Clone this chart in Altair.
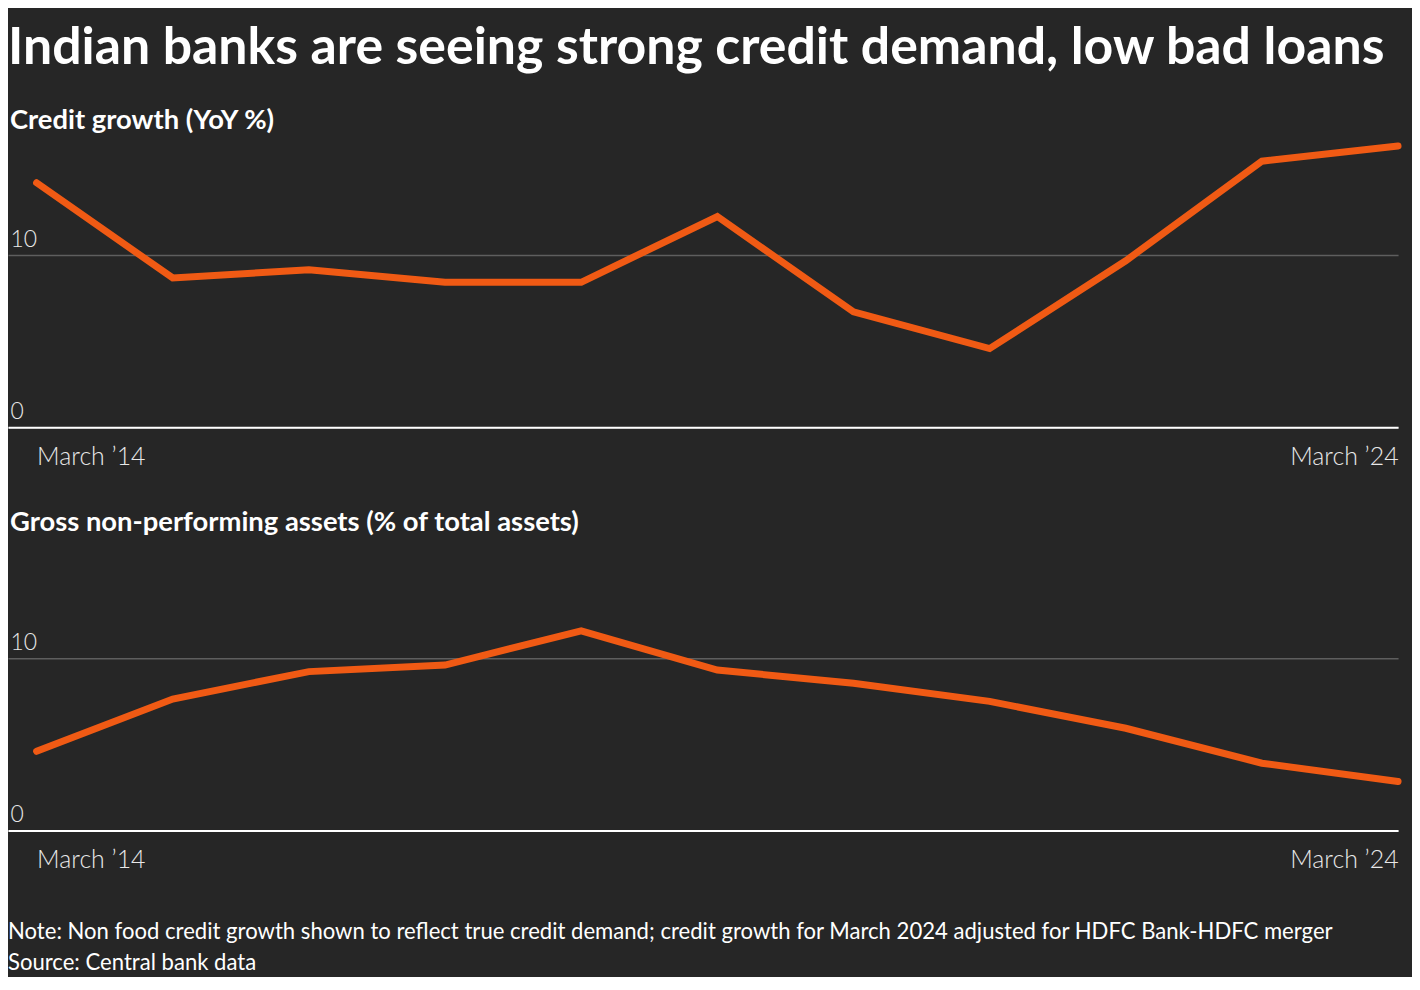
import altair as alt
import pandas as pd

# ---- data ----
years = [2014, 2015, 2016, 2017, 2018, 2019, 2020, 2021, 2022, 2023, 2024]
credit_growth = [14.2, 8.67, 9.15, 8.42, 8.42, 12.24, 6.70, 4.57, 9.67, 15.45, 16.33]
gross_npa = [4.6, 7.64, 9.23, 9.61, 11.6, 9.32, 8.55, 7.5, 5.94, 3.91, 2.85]

main_title = "Indian banks are seeing strong credit demand, low bad loans"
panel_titles = ["Credit growth (YoY %)", "Gross non-performing assets (% of total assets)"]
notes = [
    "Note: Non food credit growth shown to reflect true credit demand; credit growth for March 2024 adjusted for HDFC Bank-HDFC merger",
    "Source: Central bank data",
]
y_ticks = [0, 10]
x_ticks = [2014, 2024]

# ---- style ----
BG = "#262626"
ORANGE = "#f05a14"
GRID = "#5e5e5e"
FONT = "Lato"
W = 1396
H = 294


def panel(values, subtitle, title_dy, footer=False):
    df = pd.DataFrame({"year": years, "value": values})
    line = alt.Chart(df).mark_line(
        color=ORANGE, strokeWidth=7, strokeCap="round"
    ).encode(
        x=alt.X(
            "year:Q",
            title=None,
            scale=alt.Scale(domain=[2013.79, 2024], nice=False, zero=False),
            axis=alt.Axis(
                values=x_ticks,
                labelExpr="'March \u2019' + substring(toString(datum.value), 2, 4)",
                labelFlush=60,
                labelFont=FONT,
                labelFontSize=25,
                labelFontWeight=300,
                labelColor="#e8e8e8",
                labelBaseline="alphabetic",
                labelPadding=37,
                ticks=False,
                grid=False,
                domain=True,
                domainColor="#ffffff",
                domainWidth=2,
                zindex=1,
            ),
        ),
        y=alt.Y(
            "value:Q",
            title=None,
            scale=alt.Scale(domain=[0, 17], nice=False),
            axis=alt.Axis(
                values=y_ticks,
                labelFont=FONT,
                labelFontSize=23,
                labelFontWeight=300,
                labelColor="#e8e8e8",
                labelAlign="left",
                labelBaseline="alphabetic",
                labelOffset=-9,
                labelPadding=-2,
                ticks=False,
                domain=False,
                grid=True,
                gridColor=GRID,
                gridWidth=1.5,
            ),
        ),
    )
    layers = [line]
    if footer:
        foot = alt.Chart(pd.DataFrame({"k": [0]})).mark_text(
            align="left",
            baseline="alphabetic",
            font=FONT,
            fontSize=22.2,
            color="#ffffff",
            lineHeight=31,
        ).encode(
            x=alt.value(0),
            y=alt.value(403),
            text=alt.value(notes),
        )
        layers.append(foot)
    return alt.layer(*layers).properties(
        width=W,
        height=H,
        title=alt.TitleParams(
            text=subtitle,
            anchor="start",
            font=FONT,
            fontSize=27.5,
            fontWeight="bold",
            color="#ffffff",
            offset=0,
            dy=title_dy,
            dx=2,
        ),
    )


chart = alt.vconcat(
    panel(credit_growth, panel_titles[0], 2),
    panel(gross_npa, panel_titles[1], -1, footer=True),
    spacing=40,
).properties(
    title=alt.TitleParams(
        text=main_title,
        anchor="start",
        font=FONT,
        fontSize=52,
        fontWeight="bold",
        color="#ffffff",
        offset=32,
    ),
    padding={"left": 0, "top": 12, "right": 0, "bottom": 0},
).configure(
    background=BG,
).configure_view(
    stroke=None,
)

chart.save("out.html", embed_options={"renderer": "svg", "actions": False})
